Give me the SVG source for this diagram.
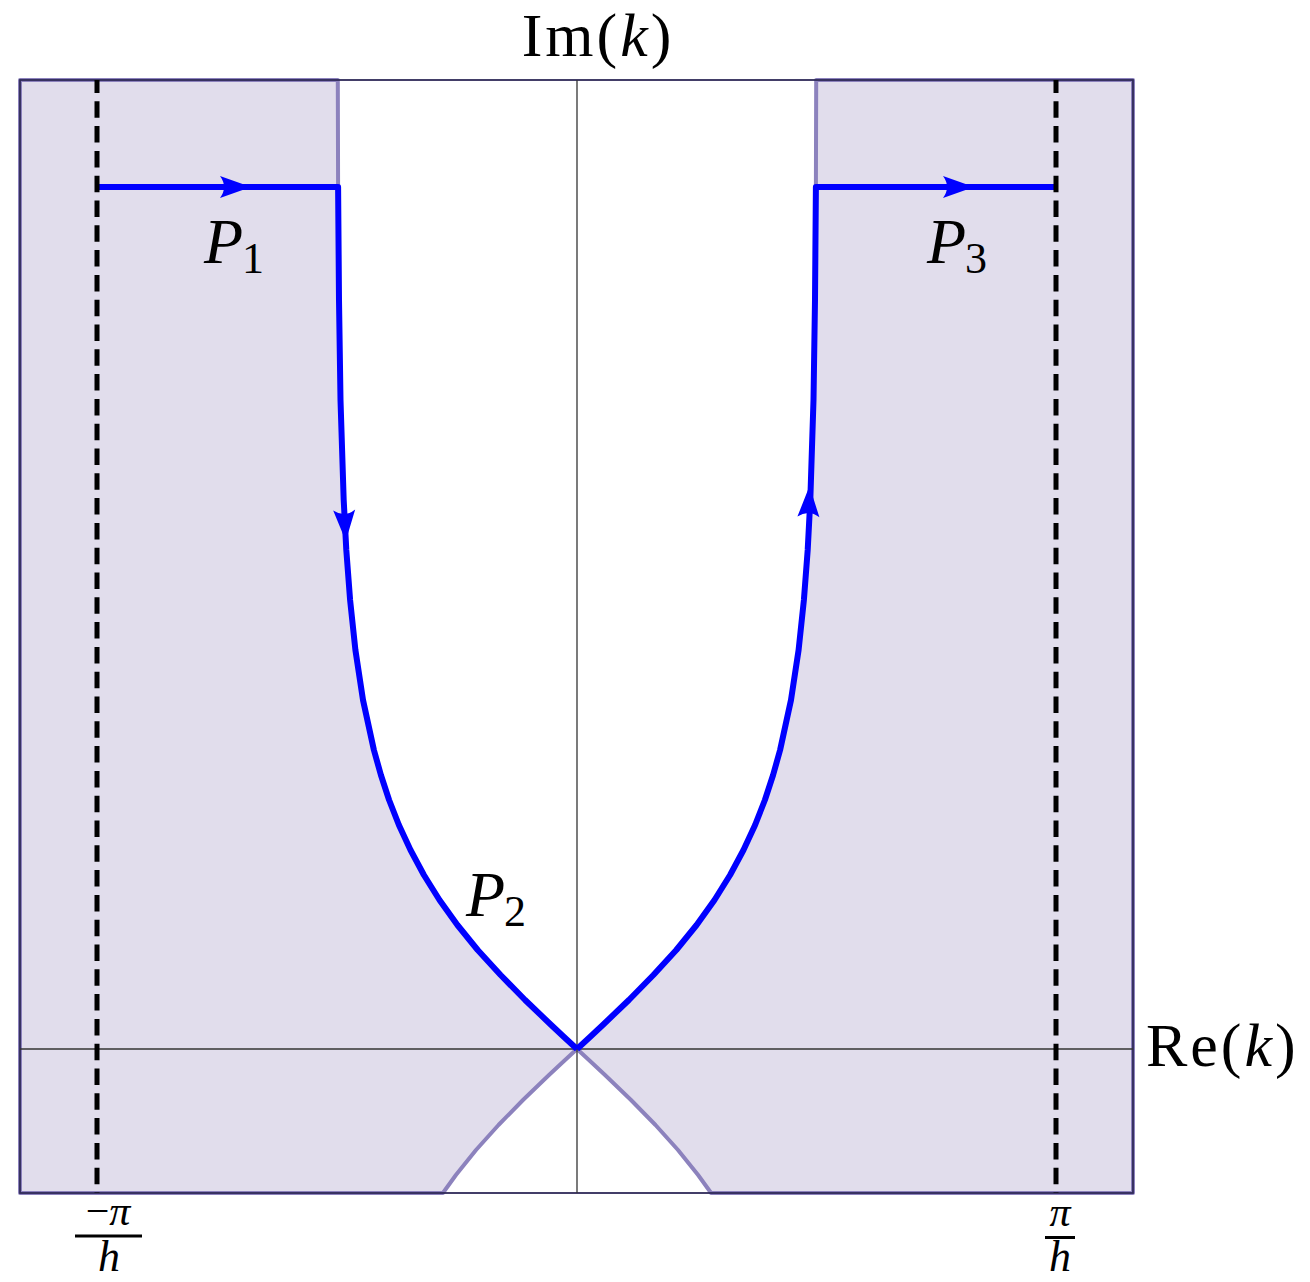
<svg xmlns="http://www.w3.org/2000/svg" width="1310" height="1282" viewBox="0 0 1310 1282">
<defs>
<style>
.region{fill:#e1ddec;stroke:#8c82bd;stroke-width:4;stroke-linejoin:round}
.axis{stroke:#333;stroke-width:1.3;fill:none}
.frame{fill:none;stroke:#2f2a58;stroke-width:1.8}
.contour{fill:none;stroke:#0000ff;stroke-width:6;stroke-linejoin:round}
.dash{stroke:#000;stroke-width:5;stroke-dasharray:16.5 8.3;stroke-dashoffset:3.5}
.arrow{fill:#0000ff}
.lbl{font-family:"Liberation Serif","Times New Roman",serif;fill:#000}
.it{font-style:italic}
</style>
<path id="ah" d="M0,0 L-31,-11 Q-23,0 -31,11 Z"/>
</defs>
<rect width="1310" height="1282" fill="#fff"/>
<g id="regions">
<path class="region" d="M20,80 H337.8 L338.1,187 L339,300 L340.5,400 L343.7,500 L346.3,550 L350.1,600 L355.4,650 L363,700 L373.9,750 L380.9,775 L389.1,800 L398.9,825 L410.5,850 L423.9,875 L439.5,900 L457.4,925 L477.7,950 L500.6,975 L525.1,1000 L551.2,1025 L564,1037 L577,1049 L564,1061 L549,1075 L523,1100 L498.5,1125 L476,1150 L455.9,1175 L442.9,1193 H20 Z"/>
<path class="region" d="M1133,80 H816.2 L815.9,187 L815,300 L813.5,400 L810.3,500 L807.7,550 L803.9,600 L798.6,650 L791,700 L780.1,750 L773.1,775 L764.9,800 L755.1,825 L743.5,850 L730.1,875 L714.5,900 L696.6,925 L676.3,950 L653.4,975 L628.9,1000 L602.8,1025 L590,1037 L577,1049 L590,1061 L605,1075 L631,1100 L655.5,1125 L678,1150 L698.1,1175 L711.1,1193 H1133 Z"/>
</g>
<g id="axes">
<rect class="frame" x="20" y="80" width="1113" height="1113"/>
<line class="axis" x1="20" y1="1049" x2="1133" y2="1049"/>
<line class="axis" x1="577" y1="80" x2="577" y2="1193"/>
</g>
<g id="connectors">
<path id="P1-P2" class="contour" d="M97,187 H338.1 L339,300 L340.5,400 L343.7,500 L346.3,550 L350.1,600 L355.4,650 L363,700 L373.9,750 L380.9,775 L389.1,800 L398.9,825 L410.5,850 L423.9,875 L439.5,900 L457.4,925 L477.7,950 L500.6,975 L525.1,1000 L551.2,1025 L564,1037 L577,1049"/>
<path id="P3" class="contour" d="M577,1049 L590,1037 L602.8,1025 L628.9,1000 L653.4,975 L676.3,950 L696.6,925 L714.5,900 L730.1,875 L743.5,850 L755.1,825 L764.9,800 L773.1,775 L780.1,750 L791,700 L798.6,650 L803.9,600 L807.7,550 L810.3,500 L813.5,400 L815,300 L815.9,187 H1056"/>
<use href="#ah" class="arrow" transform="translate(251,187)"/>
<use href="#ah" class="arrow" transform="translate(974,187)"/>
<use href="#ah" class="arrow" transform="translate(345.8,541) rotate(87)"/>
<use href="#ah" class="arrow" transform="translate(809.5,486) rotate(-88)"/>
<line class="dash" x1="97" y1="80" x2="97" y2="1193"/>
<line class="dash" x1="1056" y1="80" x2="1056" y2="1193"/>
</g>
<g id="labels">
<text class="lbl" x="598" y="56" font-size="62" letter-spacing="3" text-anchor="middle">Im(<tspan class="it">k</tspan>)</text>
<text class="lbl" x="1146" y="1066" font-size="62" letter-spacing="3">Re(<tspan class="it">k</tspan>)</text>
<text class="lbl it" x="204" y="263" font-size="64">P<tspan font-size="44" font-style="normal" y="273" dx="-1">1</tspan></text>
<text class="lbl it" x="466" y="916" font-size="64">P<tspan font-size="44" font-style="normal" y="926" dx="-1">2</tspan></text>
<text class="lbl it" x="927" y="263" font-size="64">P<tspan font-size="44" font-style="normal" y="273" dx="-1">3</tspan></text>
<text class="lbl" x="108" y="1225" font-size="42" text-anchor="middle">−<tspan class="it">π</tspan></text>
<line x1="75" y1="1236" x2="142" y2="1236" stroke="#000" stroke-width="3"/>
<text class="lbl it" x="109" y="1271" font-size="44" text-anchor="middle">h</text>
<text class="lbl it" x="1060" y="1226" font-size="42" text-anchor="middle">π</text>
<line x1="1045" y1="1237.5" x2="1075" y2="1237.5" stroke="#000" stroke-width="3"/>
<text class="lbl it" x="1060" y="1271" font-size="44" text-anchor="middle">h</text>
</g>
</svg>
